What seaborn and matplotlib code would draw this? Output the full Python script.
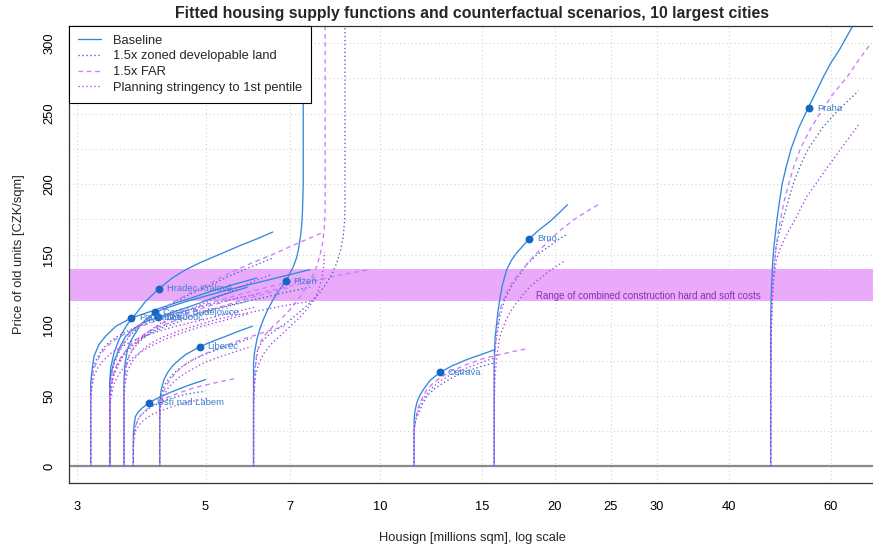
import matplotlib
matplotlib.use("Agg")
import matplotlib.pyplot as plt
import seaborn as sns
import pandas as pd
from matplotlib.ticker import NullLocator, FixedLocator

# scenario names and colours
scenarios = ["Baseline", "1.5x zoned developable land", "1.5x FAR",
             "Planning stringency to 1st pentile"]
scen_colors = ["#3388dd", "#3a62b5", "#c77dff", "#a83cf0"]

# supply curves: (housing, price) pairs
praha_base = [(47.2, 0), (47.2, 100), (47.3, 120), (47.4, 130), (47.55, 143), (47.8, 155),
              (48.1, 165), (48.4, 175), (48.9, 188), (49.4, 200), (50.2, 212), (51.2, 225),
              (52.8, 240), (54.8, 254), (56.5, 265), (58.2, 276), (60.0, 286), (62.0, 295),
              (65.6, 313)]
praha_land = [(47.2, 0), (47.3, 100), (47.45, 118), (47.6, 130), (47.9, 143), (48.2, 154),
              (48.8, 165), (49.6, 175), (50.6, 188), (51.7, 201), (53.1, 213), (54.8, 225),
              (58.0, 240), (61.6, 252), (66.9, 266)]
praha_far = [(47.2, 0), (47.3, 100), (47.45, 118), (47.6, 130), (47.9, 143), (48.2, 155),
             (48.6, 165), (49.1, 175), (49.8, 188), (50.7, 200), (51.8, 213), (53.1, 225),
             (55.1, 238), (57.4, 250), (60.5, 264), (64.0, 276), (67.0, 288), (70.1, 299)]
praha_plan = [(47.2, 0), (47.3, 90), (47.4, 102), (47.5, 117), (47.7, 130), (48.3, 146.5),
              (49.0, 154), (49.8, 160.7), (50.8, 167.5), (52.0, 174.8), (54.5, 191.3),
              (58.2, 207.8), (62.2, 224.3), (66.9, 242)]

brno_base = [(15.74, 0), (15.74, 75), (15.77, 85), (15.80, 92), (15.90, 102), (15.98, 110),
             (16.07, 117), (16.25, 128), (16.54, 139.4), (16.85, 146), (17.2, 151.2),
             (18.1, 161.4), (18.8, 167.5), (19.65, 173.6), (20.3, 179), (21.05, 185.4)]
brno_land = [(15.74, 0), (15.74, 70), (15.78, 82), (15.9, 92.2), (16.1, 106.4), (16.4, 118.2),
             (16.7, 124.5), (17.0, 130), (17.9, 143), (18.6, 149.5), (19.4, 154.8),
             (20.2, 160), (21.05, 164.7)]
brno_far = [(15.74, 0), (15.74, 65), (15.77, 75), (15.8, 82.8), (15.9, 97), (16.1, 111.1),
            (16.3, 117), (16.5, 122.9), (16.8, 128.5), (17.2, 134.7), (17.8, 142),
            (18.4, 148.8), (19.65, 160.7), (20.5, 167.5), (21.6, 174.8), (22.6, 180),
            (23.8, 185.4)]
brno_plan = [(15.74, 0), (15.74, 45), (15.77, 56), (15.8, 63.9), (15.9, 78.1), (16.1, 92.2),
             (16.5, 104), (16.8, 110), (17.2, 115.8), (17.6, 121), (18.15, 127.6),
             (18.8, 132.5), (19.4, 137.1), (20.1, 141.5), (20.9, 146)]

ostrava_base = [(11.45, 0), (11.45, 33), (11.48, 38.5), (11.57, 45), (11.7, 50), (11.88, 54.5),
                (12.2, 61), (12.69, 66.7), (13.3, 71.2), (14.11, 75.7), (15.0, 79.5),
                (15.79, 82.8)]
ostrava_land = [(11.45, 0), (11.45, 27), (11.52, 33), (11.66, 38), (11.85, 44.5), (12.04, 49.8),
                (12.4, 54.8), (12.86, 59.2), (13.4, 63.5), (14.11, 67.5), (14.9, 70.7),
                (15.74, 73.4)]
ostrava_far = [(11.45, 0), (11.45, 25), (11.5, 30.9), (11.57, 37), (11.66, 42.7), (11.84, 49),
               (12.04, 54.5), (12.35, 59), (12.69, 62.8), (13.3, 67.8), (14.11, 72.2),
               (15.0, 76.2), (16.1, 79.3), (17.0, 81.5), (17.86, 83.3)]
ostrava_plan = [(11.45, 0), (11.45, 25), (11.5, 31), (11.57, 37), (11.7, 42.5), (11.88, 48),
                (12.2, 54.5), (12.69, 60.4), (13.3, 65.5), (14.11, 69.8), (14.9, 73.5),
                (15.74, 76.9)]

plzen_base = [(6.05, 0), (6.05, 72), (6.07, 80), (6.13, 89.9), (6.2, 97), (6.29, 104),
              (6.4, 111), (6.54, 118.2), (6.7, 125), (6.88, 131.1), (7.09, 141.8), (7.18, 148),
              (7.23, 153.6), (7.29, 163), (7.33, 172), (7.35, 181.9), (7.37, 200), (7.37, 257),
              (7.38, 312)]
plzen_land = [(6.05, 0), (6.05, 50), (6.06, 60), (6.08, 68.6), (6.15, 82.8), (6.25, 88),
              (6.38, 92.2), (6.6, 96.5), (6.90, 101.7), (7.2, 108), (7.57, 115.8), (7.85, 122.5),
              (8.09, 130), (8.28, 137), (8.42, 144.2), (8.55, 153), (8.64, 163), (8.68, 172),
              (8.70, 181.9), (8.70, 312)]
plzen_far = [(6.05, 0), (6.05, 40), (6.06, 50), (6.07, 59.2), (6.09, 69), (6.12, 78.1),
             (6.17, 84.5), (6.25, 89.9), (6.38, 94.8), (6.54, 99.3), (6.75, 104.5),
             (6.99, 111.1), (7.25, 119), (7.47, 127.6), (7.64, 134.5), (7.78, 141.8),
             (7.88, 150), (7.96, 158.3), (8.01, 168), (8.04, 181.9), (8.04, 312)]
plzen_plan = [(6.05, 0), (6.05, 45), (6.07, 56), (6.1, 65), (6.18, 73), (6.3, 80), (6.48, 86.5),
              (6.7, 92), (6.95, 98), (7.2, 104), (7.45, 110.5), (7.7, 118), (7.85, 126),
              (7.95, 135), (8.0, 143), (8.02, 152)]

hradec_base = [(3.417, 0), (3.417, 60), (3.43, 70), (3.476, 80.5), (3.53, 88), (3.59, 94.6),
               (3.67, 101), (3.762, 106.4), (3.94, 117), (4.156, 126), (4.38, 133.5),
               (4.62, 139.4), (4.9, 144.5), (5.27, 150), (5.7, 156), (6.18, 161.8),
               (6.53, 166.1)]
hradec_land = [(3.417, 0), (3.417, 52), (3.43, 62), (3.47, 72), (3.53, 79.5), (3.6, 86),
               (3.7, 92.5), (3.82, 98), (3.97, 104), (4.15, 110), (4.4, 116), (4.7, 122),
               (5.1, 128.5), (5.5, 135), (6.0, 141.5), (6.54, 147.7)]
hradec_far = [(3.417, 0), (3.417, 50), (3.43, 60), (3.46, 70), (3.51, 78), (3.58, 85),
              (3.68, 92), (3.8, 98), (3.96, 104), (4.15, 110), (4.4, 116.5), (4.7, 123),
              (5.1, 130), (5.5, 137), (6.0, 144), (6.6, 151), (7.2, 158), (7.93, 165.4)]
hradec_plan = [(3.417, 0), (3.417, 45), (3.43, 55), (3.47, 64), (3.53, 71.5), (3.6, 78),
               (3.72, 84.5), (3.85, 90), (4.0, 96), (4.2, 102), (4.48, 107.5), (4.8, 113),
               (5.2, 119), (5.6, 125), (6.0, 130.5), (6.5, 136)]

pardubice_base = [(3.168, 0), (3.168, 59), (3.18, 66), (3.209, 78), (3.273, 86.3), (3.36, 92.2),
                  (3.50, 99.3), (3.723, 105.2), (4.0, 109.5), (4.3, 114), (4.7, 119), (5.1, 124),
                  (5.6, 129), (6.13, 133.5)]
pardubice_land = [(3.168, 0), (3.168, 53), (3.18, 62), (3.21, 72), (3.26, 78), (3.32, 83),
                  (3.41, 88), (3.52, 92), (3.65, 95.5), (3.8, 99), (4.05, 103), (4.3, 107),
                  (4.7, 111), (5.1, 115), (5.6, 118.8), (6.13, 122)]
pardubice_far = [(3.168, 0), (3.168, 48), (3.18, 58), (3.2, 68), (3.25, 74.5), (3.3, 80),
                 (3.39, 85.5), (3.5, 90), (3.64, 94.2), (3.8, 98), (4.1, 103), (4.4, 108),
                 (4.85, 113), (5.3, 118), (5.8, 122.5), (6.4, 127), (6.9, 130.2), (7.4, 133)]
pardubice_plan = [(3.168, 0), (3.168, 45), (3.18, 55), (3.21, 64), (3.26, 70), (3.33, 75),
                  (3.43, 80), (3.55, 84), (3.72, 88.3), (3.9, 92), (4.2, 96.5), (4.5, 100),
                  (4.9, 103.5), (5.3, 107), (5.7, 110), (6.1, 113)]

budejovice_base = [(3.616, 0), (3.616, 62), (3.63, 72), (3.664, 82.8), (3.72, 89.5),
                   (3.786, 94.6), (3.86, 100), (3.94, 104), (4.09, 109.2), (4.3, 112.5),
                   (4.6, 116.5), (5.0, 120.7), (5.4, 124.5), (5.9, 128.5), (6.4, 132),
                   (7.0, 136), (7.57, 139.4)]
budejovice_land = [(3.616, 0), (3.616, 55), (3.63, 65), (3.66, 75), (3.72, 81), (3.8, 86),
                   (3.9, 90.8), (4.02, 95), (4.2, 99.2), (4.4, 103), (4.75, 107.2), (5.1, 111),
                   (5.6, 115), (6.2, 119), (6.85, 123.2), (7.57, 127)]
budejovice_far = [(3.616, 0), (3.616, 52), (3.63, 63), (3.66, 74), (3.71, 80.5), (3.78, 86),
                  (3.88, 91.2), (4.0, 96), (4.18, 100.8), (4.4, 105), (4.75, 109.8), (5.1, 114),
                  (5.6, 118.5), (6.2, 123), (7.0, 127.8), (7.8, 132), (8.6, 135.8),
                  (9.55, 139.4)]
budejovice_plan = [(3.616, 0), (3.616, 48), (3.63, 58), (3.67, 68), (3.73, 74), (3.82, 79),
                   (3.92, 83.8), (4.05, 88), (4.25, 92.2), (4.5, 96), (4.85, 100.2), (5.2, 104),
                   (5.7, 107.6), (6.3, 111), (6.9, 114.2), (7.57, 117)]

olomouc_base = [(3.417, 0), (3.417, 55), (3.43, 65), (3.48, 75), (3.55, 84), (3.64, 92.2),
                (3.76, 97.5), (3.89, 101.7), (4.143, 105.7), (4.35, 108.8), (4.6, 112),
                (4.9, 116), (5.2, 120), (5.55, 123.6), (5.9, 127)]
olomouc_land = [(3.417, 0), (3.417, 45), (3.43, 56), (3.47, 66), (3.53, 73), (3.6, 79),
                (3.7, 84.5), (3.82, 89), (4.0, 93.8), (4.2, 98), (4.5, 102.6), (4.8, 107),
                (5.3, 112), (5.9, 117)]
olomouc_far = [(3.417, 0), (3.417, 42), (3.43, 53), (3.46, 64), (3.51, 71.5), (3.58, 78),
               (3.68, 84.5), (3.8, 90), (3.96, 94.8), (4.15, 99), (4.45, 103.6), (4.8, 108),
               (5.3, 113), (5.8, 118), (6.4, 122.7), (7.0, 127)]
olomouc_plan = [(3.417, 0), (3.417, 38), (3.43, 48), (3.47, 58), (3.54, 65), (3.62, 71),
                (3.73, 76.3), (3.86, 81), (4.04, 85.6), (4.25, 90), (4.55, 94.6), (4.9, 99),
                (5.4, 103.6), (5.9, 108)]

liberec_base = [(4.167, 0), (4.167, 45), (4.19, 54), (4.24, 61.6), (4.3, 66.5), (4.38, 71),
                (4.5, 75.5), (4.62, 79.3), (4.89, 84.9), (5.15, 88.8), (5.42, 92.2), (5.7, 95.8),
                (6.02, 99.3)]
liberec_land = [(4.167, 0), (4.167, 38), (4.18, 47), (4.22, 55), (4.28, 60), (4.36, 64),
                (4.47, 68.3), (4.6, 72), (4.76, 75.6), (4.95, 79), (5.2, 82.2), (5.45, 85),
                (5.7, 87.9), (6.0, 91)]
liberec_far = [(4.167, 0), (4.167, 35), (4.18, 44), (4.22, 52), (4.28, 57.5), (4.35, 62),
               (4.46, 67.2), (4.6, 72), (4.78, 76.2), (5.0, 80), (5.3, 84.2), (5.6, 88),
               (5.9, 91.2), (6.2, 94), (6.5, 96.8), (6.85, 99.3)]
liberec_plan = [(4.167, 0), (4.167, 32), (4.18, 42), (4.23, 50), (4.3, 55), (4.38, 59),
                (4.5, 63.2), (4.65, 67), (4.82, 70.6), (5.0, 74), (5.25, 77.2), (5.5, 80),
                (5.75, 82.6), (6.0, 85)]

usti_base = [(3.753, 0), (3.753, 22), (3.765, 30), (3.786, 35.6), (3.83, 38.8), (3.89, 41.5),
             (4.0, 45.3), (4.15, 48.8), (4.33, 52.2), (4.65, 57.2), (5.0, 61.6)]
usti_land = [(3.753, 0), (3.753, 18), (3.765, 25), (3.79, 30), (3.83, 33.8), (3.88, 37),
             (3.95, 39.6), (4.02, 42), (4.15, 44.8), (4.3, 47.5), (4.45, 49.3), (4.6, 51),
             (4.8, 52.3), (5.0, 53.3)]
usti_far = [(3.753, 0), (3.753, 15), (3.762, 22), (3.78, 28), (3.82, 32.3), (3.86, 36),
            (3.93, 39.2), (4.0, 42), (4.15, 45.6), (4.3, 49), (4.55, 52.8), (4.8, 56),
            (5.2, 59.3), (5.6, 62.1)]
usti_plan = [(3.753, 0), (3.753, 14), (3.765, 21), (3.79, 26), (3.84, 29.3), (3.89, 32),
             (3.97, 34.7), (4.05, 37), (4.2, 39.6), (4.35, 42), (4.5, 43.8), (4.65, 45.5),
             (4.82, 46.8), (5.0, 48)]

# observed points per city
city_names = ["Praha", "Brno", "Ostrava", "Plzeň", "Liberec", "Hradec Králové",
              "České Budějovice", "Olomouc", "Pardubice", "Ústí nad Labem"]
city_x = [55.0, 18.1, 12.69, 6.88, 4.89, 4.156, 4.09, 4.143, 3.723, 4.0]
city_y = [253.9, 161.4, 66.7, 131.1, 84.9, 126.0, 109.2, 105.7, 105.2, 45.3]

# construction cost band
band_low, band_high = 117, 140
band_text = "Range of combined construction hard and soft costs"

x_ticks = [3, 5, 7, 10, 15, 20, 25, 30, 40, 60]
y_ticks = [0, 50, 100, 150, 200, 250, 300]
y_grid = [0, 25, 50, 75, 100, 125, 150, 175, 200, 225, 250, 275, 300]

curves = {
    "Praha": [praha_base, praha_land, praha_far, praha_plan],
    "Brno": [brno_base, brno_land, brno_far, brno_plan],
    "Ostrava": [ostrava_base, ostrava_land, ostrava_far, ostrava_plan],
    "Plzeň": [plzen_base, plzen_land, plzen_far, plzen_plan],
    "Hradec Králové": [hradec_base, hradec_land, hradec_far, hradec_plan],
    "Pardubice": [pardubice_base, pardubice_land, pardubice_far, pardubice_plan],
    "České Budějovice": [budejovice_base, budejovice_land, budejovice_far, budejovice_plan],
    "Olomouc": [olomouc_base, olomouc_land, olomouc_far, olomouc_plan],
    "Liberec": [liberec_base, liberec_land, liberec_far, liberec_plan],
    "Ústí nad Labem": [usti_base, usti_land, usti_far, usti_plan],
}

rows = []
for city, lines in curves.items():
    for scen, pts in zip(scenarios, lines):
        for x, y in pts:
            rows.append({"unit": f"{city}|{scen}", "scenario": scen, "x": x, "y": y})
df = pd.DataFrame(rows)

sns.set_style("white")
plt.rcParams["font.family"] = ["Liberation Sans", "DejaVu Sans"]

fig = plt.figure(figsize=(8.73, 5.48), dpi=100)
ax = fig.add_axes([0.079, 0.1186, 0.9233, 0.834])
ax.set_xscale("log")

# grid first, then band on top of it
ax.set_axisbelow(True)
ax.axhspan(band_low, band_high, color="#e9aaf9", lw=0, zorder=1)
ax.axhline(0, color="#8a8a8a", lw=1.6, zorder=1.5)

palette = dict(zip(scenarios, scen_colors))
dashes = {scenarios[0]: "", scenarios[1]: (1, 2), scenarios[2]: (3.5, 2.8), scenarios[3]: (1, 2)}
sns.lineplot(data=df, x="x", y="y", units="unit", hue="scenario", style="scenario",
             hue_order=scenarios, style_order=scenarios, palette=palette, dashes=dashes,
             estimator=None, sort=False, lw=0.95, ax=ax, zorder=2)

sns.scatterplot(x=city_x, y=city_y, color="#1466c4", s=32, linewidth=0, ax=ax,
                zorder=3, legend=False)
for name, x, y in zip(city_names, city_x, city_y):
    ax.annotate(name, (x, y), xytext=(5.5, 0), textcoords="offset points",
                ha="left", va="center", fontsize=6.8, color="#3a80d0", zorder=4)

ax.text(29.06, 121.0, band_text, ha="center", va="center", fontsize=7.0,
        color="#8b2fb5", zorder=4)

ax.set_xlim(2.906, 71.45)
ax.set_ylim(-11.7, 312)
ax.xaxis.set_major_locator(FixedLocator(x_ticks))
ax.xaxis.set_minor_locator(NullLocator())
ax.set_xticklabels([str(t) for t in x_ticks])
ax.set_yticks(y_ticks)
ax.yaxis.set_minor_locator(FixedLocator(y_grid))
ax.grid(True, which="both", ls=(0, (1, 2.5)), color="#d4d4d4", lw=0.8)
ax.tick_params(axis="both", which="major", direction="out", length=5, width=0.8,
               color="#333333", labelsize=9.3, labelcolor="black")
ax.tick_params(axis="both", which="minor", length=0)
ax.tick_params(axis="x", pad=8)
ax.tick_params(axis="y", pad=5)
for lab in ax.get_yticklabels():
    lab.set_rotation(90)
    lab.set_va("center")

for side in ["left", "top", "bottom"]:
    ax.spines[side].set_color("#333333")
    ax.spines[side].set_linewidth(0.9)
ax.spines["right"].set_visible(False)

ax.set_xlabel("Housign [millions sqm], log scale", fontsize=9.3)
ax.xaxis.set_label_coords(0.5, -0.108)
ax.set_ylabel("Price of old units [CZK/sqm]", fontsize=9.3)
ax.yaxis.set_label_coords(-0.054, 0.5)
ax.set_title("Fitted housing supply functions and counterfactual scenarios, 10 largest cities",
             fontsize=11.4, fontweight="bold", pad=6)

handles, labels = ax.get_legend_handles_labels()
leg = ax.legend(handles, labels, loc="upper left", bbox_to_anchor=(0, 1), borderaxespad=0,
                frameon=True, fancybox=False, edgecolor="black", framealpha=1,
                fontsize=9.3, handlelength=1.8, handletextpad=0.95, borderpad=0.68,
                labelspacing=0.28)
leg.get_frame().set_linewidth(0.8)
leg.set_zorder(6)

fig.savefig("out.png", dpi=100)
